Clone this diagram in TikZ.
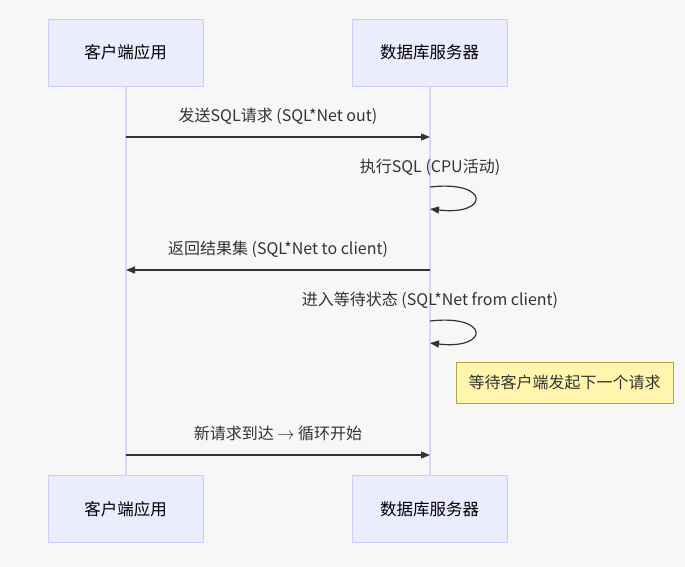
\documentclass[tikz,border=0pt]{standalone}
\usepackage{fontspec}
\setmainfont{Noto Sans CJK SC}
\usetikzlibrary{arrows.meta}
\definecolor{actfill}{HTML}{ECECFF}
\definecolor{actline}{HTML}{CCCCFF}
\definecolor{life}{HTML}{DDD5F5}
\definecolor{ink}{HTML}{333333}
\definecolor{notefill}{HTML}{FFF5AD}
\definecolor{noteline}{HTML}{AAAA33}
\begin{document}
\begin{tikzpicture}[x=1pt,y=-1pt,
  actor/.style={draw=actline,fill=actfill,minimum width=155pt,minimum height=67pt,inner sep=0pt,font=\fontsize{16.5}{19}\selectfont,text=black,line width=0.8pt},
  msg/.style={draw=ink,line width=1.2pt,-{Triangle[length=9pt,width=7pt]}},
  lbl/.style={font=\fontsize{16}{19}\selectfont,text=ink,inner sep=0pt}]
\fill[white!97!black] (0,0) rectangle (685,567);
\useasboundingbox (0,0) rectangle (685,567);
\draw[life,line width=1.2pt] (126,86) -- (126,476);
\draw[life,line width=1.2pt] (430,86) -- (430,476);
\node[actor] (a1) at (125.5,52.5) {客户端应用};
\node[actor] (b1) at (429.5,52.5) {数据库服务器};
\node[actor] (a2) at (125.5,509) {客户端应用};
\node[actor] (b2) at (429.5,509) {数据库服务器};
\coordinate (m1a) at (126,137); \coordinate (m1b) at (430,137);
\draw[msg] (m1a) -- (m1b);
\node[lbl] (t1) at (278,116) {发送SQL请求 (SQL*Net out)};
\coordinate (s1a) at (430,187); \coordinate (s1b) at (430,209);
\draw[msg] (s1a) .. controls (490,180) and (490,216) .. (s1b);
\node[lbl] (t2) at (430,167) {执行SQL (CPU活动)};
\coordinate (m3a) at (430,270); \coordinate (m3b) at (126,270);
\draw[msg] (m3a) -- (m3b);
\node[lbl] (t3) at (278,249) {返回结果集 (SQL*Net to client)};
\coordinate (s2a) at (430,321); \coordinate (s2b) at (430,343);
\draw[msg] (s2a) .. controls (490,314) and (490,350) .. (s2b);
\node[lbl] (t4) at (430,300) {进入等待状态 (SQL*Net from client)};
\node[draw=noteline,fill=notefill,minimum width=217pt,minimum height=41pt,inner sep=0pt,font=\fontsize{16}{19}\selectfont,text=ink,line width=0.8pt] (note) at (564.5,382.5) {等待客户端发起下一个请求};
\coordinate (m5a) at (126,455); \coordinate (m5b) at (430,455);
\draw[msg] (m5a) -- (m5b);
\node[lbl] (t5) at (278,433) {新请求到达 $\rightarrow$ 循环开始};
\end{tikzpicture}
\end{document}
